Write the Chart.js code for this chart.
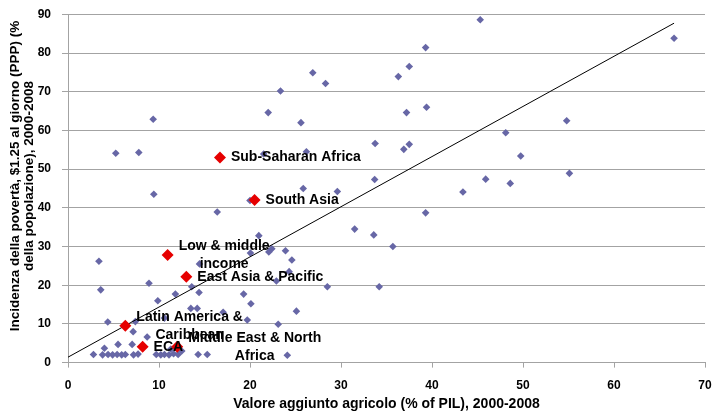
<!DOCTYPE html>
<html><head><meta charset="utf-8">
<script src="https://cdn.jsdelivr.net/npm/chart.js@4.4.0/dist/chart.umd.min.js"></script>
<style>html,body{margin:0;padding:0;background:#fff}#wrap{width:712px;height:412px}</style>
</head><body><div id="wrap"><canvas id="c" width="712" height="412"></canvas></div>
<script>
// Countries: agricultural value added (% of GDP) vs poverty headcount ($1.25/day)
const countryX = [45.3,66.6,39.3,37.5,36.3,26.9,28.3,23.35,22.0,25.6,9.36,37.2,39.4,54.8,48.1,33.75,36.9,37.5,49.75,5.25,7.78,21.5,26.2,16.6,33.7,45.9,48.6,55.1,43.4,25.85,29.6,9.43,20.0,16.4,39.3,31.5,33.6,20.97,35.7,22.4,23.9,20.05,22.07,24.6,3.4,14.45,24.3,22.9,8.9,28.5,34.2,13.6,3.6,14.4,11.8,19.3,9.87,20.1,13.5,14.2,17.05,25.1,10.6,19.7,4.37,7.4,7.16,23.1,8.7,5.5,7.05,4.0,24.1,11.3,12.5,2.8,3.8,4.4,4.9,5.4,5.9,6.3,7.2,7.7,9.7,10.2,10.6,11.1,11.6,12.1,14.3,15.3];
const countryY = [88.6,83.8,81.4,76.5,73.9,74.9,72.1,70.2,64.6,62.0,62.9,64.6,66.0,62.5,59.4,56.6,55.1,56.4,53.4,54.1,54.3,53.9,54.5,53.0,47.3,47.4,46.3,48.9,44.1,45.0,44.2,43.5,41.9,38.9,38.7,34.5,33.0,32.8,30.0,29.4,28.9,28.3,28.6,26.5,26.2,25.5,23.5,21.1,20.5,19.6,19.6,19.6,18.8,18.1,17.7,17.7,16.0,15.2,14.0,14.0,13.0,13.3,11.5,11.0,10.5,10.6,8.0,9.9,6.6,4.7,4.7,3.7,1.9,3.5,3.0,2.1,2.0,2.1,2.0,2.1,2.0,2.1,2.0,2.2,2.1,2.0,2.1,2.0,2.3,2.1,2.1,2.1];
// Regional aggregates
const regionNames = [["Sub-Saharan Africa"],["South Asia"],["Low & middle","income"],["East Asia & Pacific"],["Latin America &","Caribbean"],["ECA"],["Middle East & North","Africa"]];
const regionX = [16.7,20.5,10.95,13.0,6.3,8.2,12.0];
const regionY = [53.0,42.0,27.8,22.2,9.5,4.1,4.1];
// Linear trend line end points
const trendX = [0, 66.6];
const trendY = [1.4, 87.7];
// Axis ticks
const xTicks = [0,10,20,30,40,50,60,70];
const yTicks = [0,10,20,30,40,50,60,70,80,90];
const xTitle = "Valore aggiunto agricolo (% of PIL), 2000-2008";
const yTitle = ["Incidenza della povertà, $1.25 al giorno (PPP) (%", "della popolazione), 2000-2008"];

const FONT = '"Liberation Sans", Arial, sans-serif';
Chart.defaults.font.family = FONT;
const GRID = '#a3a3a3';

const labelPlugin = {
  id: 'labels',
  afterDatasetsDraw(chart) {
    const ctx = chart.ctx, xs = chart.scales.x, ys = chart.scales.y;
    ctx.save();
    ctx.font = 'bold 14px ' + FONT;
    ctx.fillStyle = '#000';
    ctx.textAlign = 'center';
    ctx.textBaseline = 'middle';
    regionNames.forEach((lines, i) => {
      const px = xs.getPixelForValue(regionX[i]) + 11;
      const py = ys.getPixelForValue(regionY[i]);
      const w = Math.max(...lines.map(l => ctx.measureText(l).width));
      lines.forEach((l, j) => {
        ctx.fillText(l, px + w / 2, py + (j - (lines.length - 1) / 2) * 18);
      });
    });
    // y-axis title
    ctx.font = 'bold 13.5px ' + FONT;
    yTitle.forEach((l, j) => {
      ctx.save();
      ctx.translate(15 + j * 14.5, 176);
      ctx.rotate(-Math.PI / 2);
      ctx.fillText(l, 0, 0);
      ctx.restore();
    });
    ctx.restore();
  }
};

new Chart(document.getElementById('c'), {
  type: 'scatter',
  data: {
    datasets: [
      { label: 'regions', data: regionX.map((x, i) => ({x, y: regionY[i]})),
        pointStyle: 'rectRot', pointRadius: 6, backgroundColor: '#e60000', borderColor: '#e60000', borderWidth: 0 },
      { label: 'trend', type: 'line', data: trendX.map((x, i) => ({x, y: trendY[i]})),
        borderColor: '#000', borderWidth: 1, pointRadius: 0, fill: false, tension: 0 },
      { label: 'countries', data: countryX.map((x, i) => ({x, y: countryY[i]})),
        pointStyle: 'rectRot', pointRadius: 3.8, backgroundColor: '#6767a6', borderColor: '#6767a6', borderWidth: 0 }
    ]
  },
  options: {
    responsive: false, animation: false, devicePixelRatio: 1,
    layout: { padding: { top: 14.3, right: 7, left: 0, bottom: 0 } },
    plugins: { legend: { display: false }, tooltip: { enabled: false } },
    scales: {
      x: {
        type: 'linear', min: 0, max: 70,
        afterBuildTicks(s) { s.ticks = xTicks.map(v => ({value: v})); },
        afterFit(s) { s.height = 49.4; s.paddingLeft = 0; s.paddingRight = 0; },
        ticks: { font: { size: 12, weight: 'bold' }, color: '#000', padding: 11, maxRotation: 0 },
        grid: { drawOnChartArea: false, drawTicks: true, tickLength: 5, color: GRID },
        border: { color: GRID, width: 1 },
        title: { display: true, text: xTitle, color: '#000', font: { size: 14, weight: 'bold' }, padding: { top: 0, bottom: -1 } }
      },
      y: {
        type: 'linear', min: 0, max: 90,
        afterBuildTicks(s) { s.ticks = yTicks.map(v => ({value: v})); },
        afterFit(s) { s.width = 68; s.paddingTop = 0; s.paddingBottom = 0; },
        ticks: { font: { size: 12, weight: 'bold' }, color: '#000', padding: 11 },
        grid: { color: GRID, tickLength: 6, drawTicks: true },
        border: { color: GRID, width: 1 }
      }
    }
  },
  plugins: [labelPlugin]
});
</script></body></html>
